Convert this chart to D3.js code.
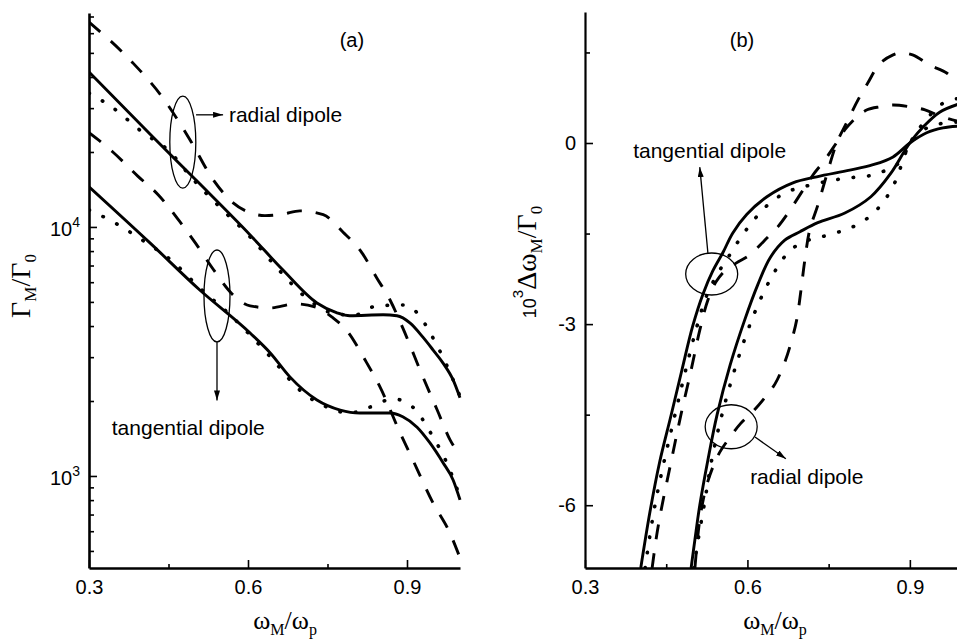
<!DOCTYPE html>
<html>
<head>
<meta charset="utf-8">
<script src="https://cdn.jsdelivr.net/npm/d3@7"></script>
<style>
body { margin: 0; background: #fff; }
svg { display: block; }
</style>
</head>
<body>
<svg id="chart" width="957" height="643"></svg>
<script>
// ticks
const xTicks = [0.3, 0.6, 0.9];
const xMinor = [0.45, 0.75];
const yMajorA = [1000, 10000];
const yMinorA = [500, 600, 700, 800, 900, 2000, 3000, 4000, 5000, 6000, 7000, 8000, 9000,
                 20000, 30000, 40000, 50000, 60000, 70000];
const yMajorB = [-6, -3, 0];
const yMinorB = [-4.5, -1.5, 1.5];

// panel (a): Gamma_M / Gamma_0  [omega_M/omega_p, value]
const aRadSolid = [[0.300,41900],[0.415,23600],[0.509,14900],[0.604,9290],[0.666,6710],[0.730,4950],
  [0.768,4520],[0.792,4400],[0.855,4440],[0.881,4400],[0.906,4110],[0.930,3610],[0.949,3210],
  [0.968,2840],[0.987,2430],[1.000,2060]];
const aRadDot = [[0.300,34500],[0.345,30100],[0.400,24100],[0.453,20000],[0.491,16000],[0.547,12000],
  [0.604,9120],[0.655,6840],[0.708,5240],[0.758,4520],[0.800,4420],[0.843,4820],[0.896,4860],
  [0.925,4360],[0.943,3780],[0.972,2870],[1.000,2090]];
const aRadDash = [[0.300,66500],[0.381,46000],[0.438,33300],[0.491,22300],[0.534,15500],[0.572,12500],
  [0.604,11400],[0.632,11100],[0.665,11250],[0.698,11600],[0.742,11200],[0.779,9550],[0.815,7870],
  [0.843,6240],[0.868,5090],[0.892,3930],[0.930,2500],[0.957,1840],[0.981,1400],[1.000,1210]];
const aTanSolid = [[0.300,14500],[0.415,8630],[0.509,5580],[0.604,3750],[0.642,3120],[0.679,2500],
  [0.730,2020],[0.774,1840],[0.811,1790],[0.868,1790],[0.892,1730],[0.919,1570],[0.943,1360],
  [0.968,1130],[0.987,964],[1.000,802]];
const aTanDot = [[0.300,11700],[0.345,10500],[0.400,8870],[0.457,7290],[0.509,5690],[0.566,4440],
  [0.642,3010],[0.698,2210],[0.749,1890],[0.792,1790],[0.830,1890],[0.874,2040],[0.911,1890],
  [0.947,1460],[0.975,1130],[1.000,824]];
const aTanDash = [[0.300,23900],[0.345,20000],[0.392,16000],[0.430,13500],[0.470,10600],[0.502,8550],
  [0.534,6780],[0.570,5380],[0.604,4820],[0.642,4730],[0.689,4910],[0.726,4780],[0.760,4320],
  [0.787,3820],[0.821,2920],[0.849,2280],[0.887,1490],[0.911,1160],[0.949,780],[0.981,590],[1.000,469]];

// panel (b): 10^3 dOmega_M / Gamma_0
const bTanSolid = [[0.403,-7.04],[0.420,-6.11],[0.438,-5.28],[0.459,-4.51],[0.479,-3.76],[0.499,-3.03],
  [0.518,-2.50],[0.536,-2.12],[0.555,-1.81],[0.573,-1.49],[0.599,-1.18],[0.636,-0.89],[0.684,-0.66],
  [0.728,-0.56],[0.789,-0.45],[0.832,-0.36],[0.869,-0.23],[0.900,0.00],[0.931,0.17],[0.961,0.25],[0.992,0.28]];
const bTanDot = [[0.411,-7.04],[0.427,-6.11],[0.446,-5.28],[0.466,-4.51],[0.486,-3.76],[0.507,-3.03],
  [0.525,-2.52],[0.546,-2.15],[0.566,-1.87],[0.592,-1.51],[0.618,-1.21],[0.642,-0.99],[0.673,-0.81],
  [0.702,-0.73],[0.739,-0.65],[0.784,-0.58],[0.821,-0.55],[0.848,-0.48],[0.876,-0.36],[0.894,-0.12],
  [0.918,0.17],[0.946,0.30],[0.992,0.35]];
const bTanDash = [[0.424,-7.04],[0.431,-6.58],[0.440,-6.11],[0.459,-5.28],[0.477,-4.51],[0.496,-3.76],
  [0.512,-3.10],[0.527,-2.60],[0.542,-2.30],[0.558,-2.12],[0.579,-1.99],[0.605,-1.85],[0.632,-1.61],
  [0.656,-1.39],[0.675,-1.16],[0.699,-0.83],[0.721,-0.53],[0.743,-0.28],[0.762,-0.03],[0.780,0.22],
  [0.802,0.43],[0.821,0.55],[0.845,0.60],[0.869,0.63],[0.900,0.60],[0.928,0.55],[0.955,0.45],[0.992,0.35]];
const bRadSolid = [[0.496,-7.04],[0.503,-6.57],[0.512,-6.00],[0.527,-5.25],[0.544,-4.50],[0.568,-3.68],
  [0.595,-2.93],[0.619,-2.35],[0.642,-1.90],[0.669,-1.61],[0.697,-1.47],[0.730,-1.32],[0.780,-1.16],
  [0.828,-0.89],[0.865,-0.50],[0.891,-0.12],[0.904,0.05],[0.924,0.26],[0.955,0.51],[0.992,0.65]];
const bRadDot = [[0.501,-7.04],[0.509,-6.57],[0.520,-6.00],[0.534,-5.25],[0.553,-4.50],[0.579,-3.68],
  [0.608,-2.93],[0.634,-2.40],[0.656,-2.05],[0.680,-1.77],[0.712,-1.61],[0.743,-1.54],[0.780,-1.44],
  [0.810,-1.32],[0.835,-1.14],[0.854,-0.94],[0.872,-0.66],[0.883,-0.40],[0.894,-0.12],[0.909,0.13],
  [0.937,0.46],[0.965,0.68],[0.992,0.74]];
const bRadDash = [[0.503,-7.04],[0.512,-6.24],[0.525,-5.66],[0.546,-5.17],[0.564,-4.92],[0.588,-4.64],
  [0.610,-4.45],[0.632,-4.22],[0.651,-3.99],[0.669,-3.63],[0.682,-3.26],[0.691,-2.93],[0.699,-2.43],
  [0.706,-1.94],[0.715,-1.44],[0.730,-1.03],[0.749,-0.45],[0.765,0.00],[0.784,0.35],[0.804,0.71],
  [0.822,0.99],[0.845,1.32],[0.869,1.46],[0.881,1.49],[0.905,1.46],[0.937,1.29],[0.968,1.16],[0.992,0.96]];

const sans = "'Liberation Sans', Arial, Helvetica, sans-serif";
const serif = "'Liberation Serif', 'Times New Roman', Times, serif";

const svg = d3.select("#chart");

const xA = d3.scaleLinear().domain([0.3, 1.0]).range([89, 460]);
const yA = d3.scaleLog().domain([427, 72300]).range([568, 13]);
const xB = d3.scaleLinear().domain([0.3, 1.0]).range([585, 964]);
const yB = d3.scaleLinear().domain([-7.04, 2.17]).range([568, 12]);

const defs = svg.append("defs");
defs.append("marker").attr("id", "arr")
  .attr("viewBox", "0 0 10 6").attr("refX", 10).attr("refY", 3)
  .attr("markerWidth", 10).attr("markerHeight", 6)
  .attr("markerUnits", "userSpaceOnUse").attr("orient", "auto")
  .append("path").attr("d", "M0,0L10,3L0,6z").attr("fill", "#000");
defs.append("clipPath").attr("id", "clipB")
  .append("rect").attr("x", 585).attr("y", 12).attr("width", 380).attr("height", 556);
defs.append("clipPath").attr("id", "clipA")
  .append("rect").attr("x", 89).attr("y", 13).attr("width", 373).attr("height", 555);

const styles = {
  solid: {w: 2.9, dash: null, cap: "butt"},
  dot: {w: 3.6, dash: "0.5,15", cap: "round"},
  dash: {w: 2.9, dash: "15,14", cap: "butt"}
};

function drawCurves(g, x, y, series, clip, curve) {
  const line = d3.line().x(d => x(d[0])).y(d => y(d[1])).curve(curve);
  const gc = g.append("g").attr("clip-path", `url(#${clip})`);
  series.forEach(([data, kind]) => {
    const s = styles[kind];
    gc.append("path").datum(data)
      .attr("d", line)
      .attr("fill", "none")
      .attr("stroke", "#000")
      .attr("stroke-width", s.w)
      .attr("stroke-linecap", s.cap)
      .attr("stroke-dasharray", s.dash);
  });
}

function styleAxis(g, w) {
  g.select(".domain").attr("stroke-width", w).attr("stroke", "#000");
  g.selectAll(".tick line").attr("stroke-width", 1.6).attr("stroke", "#000");
  g.selectAll(".tick text").attr("font-family", sans).attr("font-size", 20).attr("fill", "#000");
}

function xAxes(g, x) {
  const ax = g.append("g").attr("transform", "translate(0,568)")
    .call(d3.axisBottom(x).tickValues(xTicks).tickSize(-8).tickSizeOuter(0).tickPadding(12)
      .tickFormat(d3.format(".1f")));
  styleAxis(ax, 2.6);
  const mn = g.append("g").attr("transform", "translate(0,568)")
    .call(d3.axisBottom(x).tickValues(xMinor).tickSize(-4).tickFormat(""));
  mn.select(".domain").remove();
  mn.selectAll(".tick line").attr("stroke-width", 1.6);
}

// ---------- panel (a)
const gA = svg.append("g");
drawCurves(gA, xA, yA, [
  [aRadDash, "dash"], [aRadSolid, "solid"], [aRadDot, "dot"],
  [aTanDash, "dash"], [aTanSolid, "solid"], [aTanDot, "dot"]
], "clipA", d3.curveMonotoneX);

xAxes(gA, xA);
const yaxA = gA.append("g").attr("transform", "translate(89,0)")
  .call(d3.axisLeft(yA).tickValues(yMajorA).tickSize(-8).tickSizeOuter(0).tickFormat(""));
styleAxis(yaxA, 2.6);
const yminA = gA.append("g").attr("transform", "translate(89,0)")
  .call(d3.axisLeft(yA).tickValues(yMinorA).tickSize(-5).tickFormat(""));
yminA.select(".domain").remove();
yminA.selectAll(".tick line").attr("stroke-width", 1.6);

yMajorA.forEach(v => {
  const t = gA.append("text")
    .attr("x", 80).attr("y", yA(v)).attr("dy", "0.45em")
    .attr("text-anchor", "end")
    .attr("font-family", sans).attr("font-size", 20);
  t.append("tspan").text("10");
  t.append("tspan").attr("font-size", 14).attr("dy", -9).text(Math.round(Math.log10(v)));
});

// axis labels (a)
const labA = gA.append("text").attr("font-family", serif).attr("font-size", 28)
  .attr("text-anchor", "middle").attr("transform", "translate(30,286) rotate(-90)");
labA.append("tspan").text("Γ");
labA.append("tspan").attr("font-size", 17).attr("dy", 6).text("M");
labA.append("tspan").attr("dy", -6).text("/Γ");
labA.append("tspan").attr("font-size", 17).attr("dy", 6).text("0");

const xlabA = gA.append("text").attr("font-family", serif).attr("font-size", 26)
  .attr("text-anchor", "middle").attr("x", xA(0.67)).attr("y", 629);
xlabA.append("tspan").text("ω");
xlabA.append("tspan").attr("font-size", 16).attr("dy", 6).text("M");
xlabA.append("tspan").attr("dy", -6).text("/ω");
xlabA.append("tspan").attr("font-size", 16).attr("dy", 6).text("p");

// annotations (a)
function note(g, x, y, str) {
  g.append("text").attr("x", x).attr("y", y).attr("dy", "0.36em")
    .attr("font-family", sans).attr("font-size", 21).text(str);
}
function ring(g, cx, cy, rx, ry) {
  g.append("ellipse").attr("cx", cx).attr("cy", cy).attr("rx", rx).attr("ry", ry)
    .attr("fill", "none").attr("stroke", "#000").attr("stroke-width", 1.3);
}
function arrow(g, x1, y1, x2, y2) {
  g.append("line").attr("x1", x1).attr("y1", y1).attr("x2", x2).attr("y2", y2)
    .attr("stroke", "#000").attr("stroke-width", 1.3).attr("marker-end", "url(#arr)");
}

gA.append("text").attr("x", xA(0.796)).attr("y", yA(56400)).attr("dy", "0.36em")
  .attr("text-anchor", "middle").attr("font-family", sans).attr("font-size", 20).text("(a)");
ring(gA, xA(0.477), yA(21900), 13, 46);
arrow(gA, xA(0.502), yA(28200), xA(0.553), yA(28200));
note(gA, xA(0.564), yA(28200), "radial dipole");
ring(gA, xA(0.5415), yA(5280), 13, 46);
arrow(gA, xA(0.5415), yA(3440), xA(0.5415), yA(2010));
note(gA, xA(0.343), yA(1560), "tangential dipole");

// ---------- panel (b)
const gB = svg.append("g");
drawCurves(gB, xB, yB, [
  [bTanDash, "dash"], [bTanSolid, "solid"], [bTanDot, "dot"],
  [bRadDash, "dash"], [bRadSolid, "solid"], [bRadDot, "dot"]
], "clipB", d3.curveCatmullRom.alpha(0.5));

xAxes(gB, xB);
const yaxB = gB.append("g").attr("transform", "translate(585,0)")
  .call(d3.axisLeft(yB).tickValues(yMajorB).tickSize(-8).tickSizeOuter(0).tickPadding(9)
    .tickFormat(d => String(d)));
styleAxis(yaxB, 2.2);
const yminB = gB.append("g").attr("transform", "translate(585,0)")
  .call(d3.axisLeft(yB).tickValues(yMinorB).tickSize(-5).tickFormat(""));
yminB.select(".domain").remove();
yminB.selectAll(".tick line").attr("stroke-width", 1.6);

const labB = gB.append("text").attr("font-family", serif).attr("font-size", 28)
  .attr("text-anchor", "middle").attr("transform", "translate(536,262) rotate(-90)");
labB.append("tspan").attr("font-family", sans).attr("font-size", 18).text("10");
labB.append("tspan").attr("font-family", sans).attr("font-size", 15).attr("dy", -13).text("3");
labB.append("tspan").attr("dy", 13).text("Δω");
labB.append("tspan").attr("font-size", 17).attr("dy", 6).text("M");
labB.append("tspan").attr("dy", -6).text("/Γ");
labB.append("tspan").attr("font-size", 17).attr("dy", 6).text("0");

const xlabB = gB.append("text").attr("font-family", serif).attr("font-size", 26)
  .attr("text-anchor", "middle").attr("x", 775).attr("y", 629);
xlabB.append("tspan").text("ω");
xlabB.append("tspan").attr("font-size", 16).attr("dy", 6).text("M");
xlabB.append("tspan").attr("dy", -6).text("/ω");
xlabB.append("tspan").attr("font-size", 16).attr("dy", 6).text("p");

gB.append("text").attr("x", xB(0.590)).attr("y", yB(1.71)).attr("dy", "0.36em")
  .attr("text-anchor", "middle").attr("font-family", sans).attr("font-size", 20).text("(b)");
ring(gB, xB(0.534), yB(-2.17), 26, 21);
arrow(gB, xB(0.527), yB(-1.82), xB(0.512), yB(-0.40));
note(gB, xB(0.389), yB(-0.12), "tangential dipole");
ring(gB, xB(0.570), yB(-4.70), 26, 22);
arrow(gB, xB(0.614), yB(-4.87), xB(0.671), yB(-5.23));
note(gB, xB(0.605), yB(-5.52), "radial dipole");
</script>
</body>
</html>
